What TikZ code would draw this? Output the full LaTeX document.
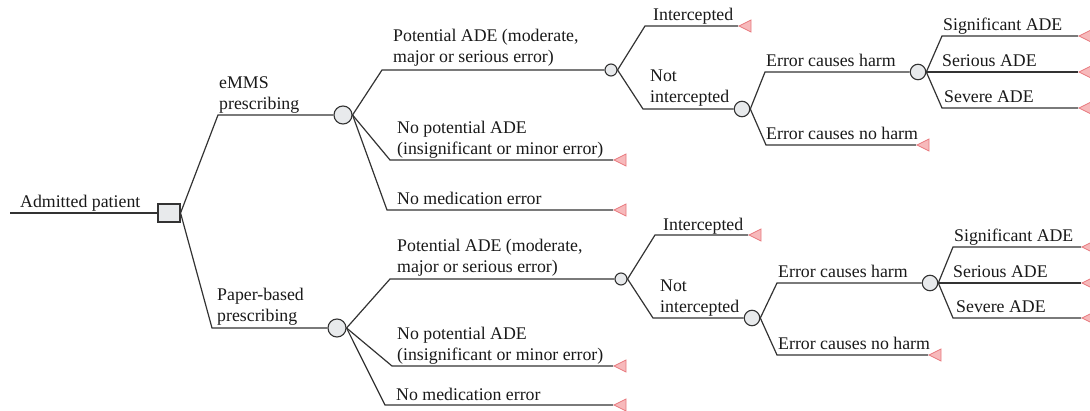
\documentclass[tikz,border=0pt]{standalone}
\usepackage{fontspec}
\setmainfont{Liberation Serif}
\usetikzlibrary{shapes.geometric}
\definecolor{lc}{HTML}{333333}
\definecolor{nfill}{HTML}{E8EAEC}
\definecolor{tfill}{HTML}{F7B9BB}
\definecolor{tdraw}{HTML}{E8797E}
\newcommand\twol[2]{\vbox{\hbox{#1}\hbox{#2}}}
\tikzset{
  ln/.style={draw=lc, line width=1.2pt},
  decbox/.style={rectangle, draw=lc, fill=nfill, line width=1.1pt, minimum width=22pt, minimum height=18pt, inner sep=0pt},
  chbig/.style={circle, draw=lc, fill=nfill, line width=1.1pt, minimum size=18pt, inner sep=0pt},
  chmid/.style={circle, draw=lc, fill=nfill, line width=1.1pt, minimum size=15.5pt, inner sep=0pt},
  chsm/.style={circle, draw=lc, fill=nfill, line width=1.1pt, minimum size=12pt, inner sep=0pt},
  term/.style={isosceles triangle, isosceles triangle stretches, shape border rotate=180, minimum width=12pt, minimum height=12pt, inner sep=0pt, draw=tdraw, fill=tfill, line width=0.8pt, anchor=apex},
  lab/.style={anchor=base west, inner sep=0pt, font=\fontsize{17.8}{21}\selectfont, text=black!90}
}
\begin{document}
\begin{tikzpicture}[x=1pt, y=-1pt]
\useasboundingbox (0,0) rectangle (1090,411);
% root
\coordinate (r0) at (10,213);
\node[decbox] (D) at (169,213) {};
\node[lab] (lroot) at (20,208) {Admitted patient};
\draw[ln] (r0) -- (D.west);

% ===== top: eMMS =====
\coordinate (bE) at (218,115);
\node[chbig] (C1) at (343,115) {};
\node[lab] (lE) at (219,110) {\twol{eMMS}{prescribing}};
\draw[ln] (D.east) -- (bE) -- (C1.west);

\coordinate (b11) at (382,70);
\node[chsm] (C11) at (611,70) {};
\node[lab] (l11) at (393,63) {\twol{Potential ADE (moderate,}{major or serious error)}};
\draw[ln] (C1.east) -- (b11) -- (C11.west);

\coordinate (b12) at (390,160);
\node[term] (T12) at (613,160) {};
\node[lab] (l12) at (397,155) {\twol{No potential ADE}{(insignificant or minor error)}};
\draw[ln] (C1.east) -- (b12) -- (T12.apex);

\coordinate (b13) at (387,210);
\node[term] (T13) at (613,210) {};
\node[lab] (l13) at (397,205) {No medication error};
\draw[ln] (C1.east) -- (b13) -- (T13.apex);

\coordinate (b111) at (645,26);
\node[term] (T111) at (738,26) {};
\node[lab] (l111) at (653,21) {Intercepted};
\draw[ln] (C11.east) -- (b111) -- (T111.apex);

\coordinate (b112) at (643,109);
\node[chmid] (C112) at (742,109) {};
\node[lab] (l112) at (650,103) {\twol{Not}{intercepted}};
\draw[ln] (C11.east) -- (b112) -- (C112.west);

\coordinate (b1121) at (765,72);
\node[chmid] (C1121) at (918,72) {};
\node[lab] (l1121) at (766,67) {Error causes harm};
\draw[ln] (C112.east) -- (b1121) -- (C1121.west);

\coordinate (b1122) at (766,145);
\node[term] (T1122) at (916,145) {};
\node[lab] (l1122) at (766,140) {Error causes no harm};
\draw[ln] (C112.east) -- (b1122) -- (T1122.apex);

\coordinate (bs1) at (942,36);
\node[term] (Ts1) at (1078,36) {};
\node[lab] (ls1) at (943,31) {Significant ADE};
\draw[ln] (C1121.east) -- (bs1) -- (Ts1.apex);

\node[term] (Ts2) at (1078,72) {};
\node[lab] (ls2) at (942,67) {Serious ADE};
\draw[ln] (C1121.east) -- (Ts2.apex);

\coordinate (bs3) at (942,108);
\node[term] (Ts3) at (1078,108) {};
\node[lab] (ls3) at (944,103) {Severe ADE};
\draw[ln] (C1121.east) -- (bs3) -- (Ts3.apex);

% ===== bottom: paper =====
\coordinate (bP) at (212,328);
\node[chbig] (C2) at (337,328) {};
\node[lab] (lP) at (217,322) {\twol{Paper-based}{prescribing}};
\draw[ln] (D.east) -- (bP) -- (C2.west);

\coordinate (b21) at (390,279);
\node[chsm] (C21) at (621,279) {};
\node[lab] (l21) at (397,273) {\twol{Potential ADE (moderate,}{major or serious error)}};
\draw[ln] (C2.east) -- (b21) -- (C21.west);

\coordinate (b22) at (392,366);
\node[term] (T22) at (613,366) {};
\node[lab] (l22) at (397,361) {\twol{No potential ADE}{(insignificant or minor error)}};
\draw[ln] (C2.east) -- (b22) -- (T22.apex);

\coordinate (b23) at (385,405);
\node[term] (T23) at (613,405) {};
\node[lab] (l23) at (396,401) {No medication error};
\draw[ln] (C2.east) -- (b23) -- (T23.apex);

\coordinate (b211) at (655,235);
\node[term] (T211) at (748,235) {};
\node[lab] (l211) at (663,231) {Intercepted};
\draw[ln] (C21.east) -- (b211) -- (T211.apex);

\coordinate (b212) at (653,318);
\node[chmid] (C212) at (752,318) {};
\node[lab] (l212) at (660,313) {\twol{Not}{intercepted}};
\draw[ln] (C21.east) -- (b212) -- (C212.west);

\coordinate (b2121) at (777,283);
\node[chmid] (C2121) at (930,283) {};
\node[lab] (l2121) at (778,278) {Error causes harm};
\draw[ln] (C212.east) -- (b2121) -- (C2121.west);

\coordinate (b2122) at (777,355);
\node[term] (T2122) at (928,355) {};
\node[lab] (l2122) at (778,350) {Error causes no harm};
\draw[ln] (C212.east) -- (b2122) -- (T2122.apex);

\coordinate (bt1) at (953,247);
\node[term] (Tt1) at (1081,247) {};
\node[lab] (lt1) at (954,242) {Significant ADE};
\draw[ln] (C2121.east) -- (bt1) -- (Tt1.apex);

\node[term] (Tt2) at (1081,283) {};
\node[lab] (lt2) at (953,278) {Serious ADE};
\draw[ln] (C2121.east) -- (Tt2.apex);

\coordinate (bt3) at (953,318);
\node[term] (Tt3) at (1081,318) {};
\node[lab] (lt3) at (956,313) {Severe ADE};
\draw[ln] (C2121.east) -- (bt3) -- (Tt3.apex);
\end{tikzpicture}
\end{document}
